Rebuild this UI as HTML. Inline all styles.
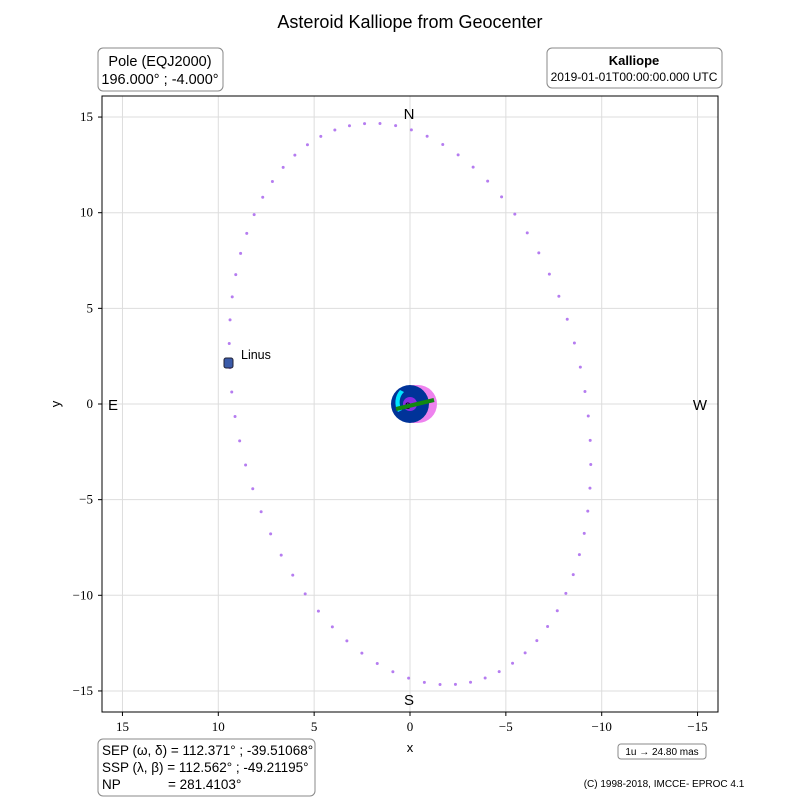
<!DOCTYPE html>
<html><head><meta charset="utf-8"><style>
body{margin:0;background:#fff;width:800px;height:800px;overflow:hidden}
svg text{font-family:"Liberation Sans",sans-serif}
.t{font-family:"Liberation Serif",serif;font-size:13px}
</style></head><body>
<svg id="s" width="800" height="800" xmlns="http://www.w3.org/2000/svg">
<rect width="800" height="800" fill="#fff"/>
<text x="410" y="28" font-size="18" text-anchor="middle">Asteroid Kalliope from Geocenter</text>
<g id="grid" stroke="#ddd" stroke-width="1"></g>
<g id="dots" fill="#b57cf0"></g>
<rect x="102" y="96" width="616" height="616" fill="none" stroke="#000" stroke-width="1"/>
<g id="ticks"></g>
<text x="409" y="119" font-size="15" text-anchor="middle">N</text>
<text x="409" y="705" font-size="15" text-anchor="middle">S</text>
<text x="113" y="410" font-size="15" text-anchor="middle">E</text>
<text x="700" y="410" font-size="15" text-anchor="middle">W</text>
<text x="410" y="752" font-size="13" text-anchor="middle">x</text>
<text x="60" y="404" font-size="13" text-anchor="middle" transform="rotate(-90 60 404)">y</text>
<rect x="224" y="358" width="9" height="10" rx="2" fill="#3a5aa8" stroke="#223" stroke-width="1"/>
<text x="241" y="359" font-size="12.5">Linus</text>
<circle cx="413" cy="404" r="19" fill="#888"/>
<circle cx="410" cy="404" r="19" fill="#003399"/>
<path d="M410 385 A19 19 0 0 1 410 423 L418 423 A19 19 0 0 0 418 385Z" fill="#ee82ee"/>
<path d="M400 390 A19 19 0 0 0 398 412 L402 410 A14 14 0 0 1 404 392Z" fill="#00e5ff"/>
<circle cx="410" cy="404" r="7" fill="#8a2be2"/>
<text x="405" y="409" font-size="12" fill="#000">ε</text>
<line x1="396" y1="409" x2="434" y2="400" stroke="#118811" stroke-width="4"/>
<rect x="98" y="48" width="125" height="43" rx="5" fill="#fff" stroke="#888"/>
<text x="160" y="66" font-size="14.5" text-anchor="middle">Pole (EQJ2000)</text>
<text x="160" y="84" font-size="14.5" text-anchor="middle">196.000° ; -4.000°</text>
<rect x="547" y="48" width="175" height="40" rx="5" fill="#fff" stroke="#888"/>
<text x="634" y="65" font-size="13" font-weight="bold" text-anchor="middle">Kalliope</text>
<text x="634" y="81" font-size="12" text-anchor="middle">2019-01-01T00:00:00.000 UTC</text>
<rect x="98" y="739" width="217" height="57" rx="5" fill="#fff" stroke="#888"/>
<text x="102" y="755" font-size="13.5">SEP (ω, δ) = 112.371° ; -39.51068°</text>
<text x="102" y="772" font-size="13.5">SSP (λ, β) = 112.562° ; -49.21195°</text>
<text x="102" y="789" font-size="13.5">NP</text>
<text x="168" y="789" font-size="13.5">= 281.4103°</text>
<rect x="618" y="744" width="88" height="15" rx="3" fill="#fff" stroke="#888"/>
<text x="662" y="755" font-size="10" text-anchor="middle">1u → 24.80 mas</text>
<text x="664" y="787" font-size="10" text-anchor="middle">(C) 1998-2018, IMCCE- EPROC 4.1</text>
</svg>
<script>
const ns="http://www.w3.org/2000/svg";
const X=x=>410-19.17*x, Y=y=>404-19.13*y;
function el(t,a,p,txt){const e=document.createElementNS(ns,t);for(const k in a)e.setAttribute(k,a[k]);if(txt!==undefined)e.textContent=txt;document.getElementById(p).appendChild(e);}
[15,10,5,0,-5,-10,-15].forEach(v=>{
 el('line',{x1:X(v),x2:X(v),y1:96,y2:712},'grid');
 el('line',{x1:102,x2:718,y1:Y(v),y2:Y(v)},'grid');
 el('line',{x1:X(v),x2:X(v),y1:712,y2:716,stroke:'#000'},'ticks');
 el('line',{x1:98,x2:102,y1:Y(v),y2:Y(v),stroke:'#000'},'ticks');
 const l=v<0?'−'+(-v):''+v;
 el('text',{x:X(v),y:731,'text-anchor':'middle',class:'t'},'ticks',l);
 el('text',{x:93,y:Y(v)+4,'text-anchor':'end',class:'t'},'ticks',l);
});
const A=[9.4,1.9],B=[0.75,14.55];
for(let i=0;i<72;i++){const t=2*Math.PI*i/72;
 const x=A[0]*Math.cos(t)+B[0]*Math.sin(t), y=A[1]*Math.cos(t)+B[1]*Math.sin(t);
 el('circle',{cx:X(x),cy:Y(y),r:1.5},'dots');}
</script>
</body></html>
